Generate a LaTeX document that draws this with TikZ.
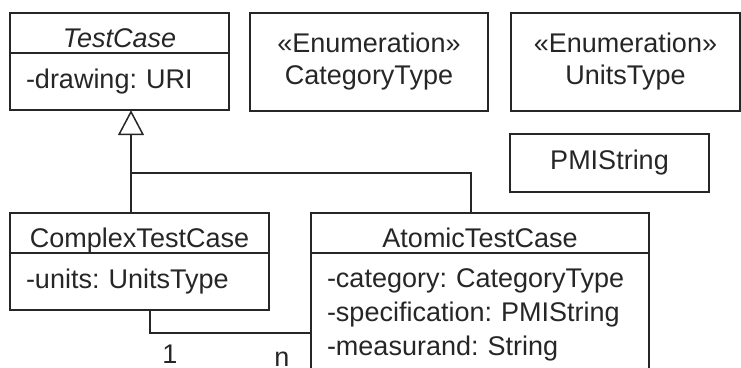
\documentclass[tikz,border=0pt]{standalone}
\usepackage{fontspec}
\setmainfont{Liberation Sans}
\usetikzlibrary{positioning,arrows.meta}

\newcommand{\umlfont}{\fontsize{27}{34}\selectfont}
\tikzset{
  uml/.style={draw, line width=1.5pt, font=\umlfont, inner sep=0pt, outer sep=0pt},
  classhead/.style={uml, minimum width=#1, text height=34pt, text depth=6pt, anchor=north west},
  classattr/.style={uml, text width=#1, inner xsep=16pt, inner ysep=16pt, align=left},
  typebox/.style={uml, align=center, anchor=north west, font=\fontsize{27}{32}\selectfont},
  mult/.style={font=\umlfont, anchor=base},
  inherit/.style={-{Triangle[open, width=26pt, length=25pt]}},
}
\frenchspacing

\begin{document}
\begin{tikzpicture}[x=1pt, y=-1pt, line width=1.5pt, color=black!85]
\path[use as bounding box, clip] (0,0) rectangle (741,367);

% classes
\node[classhead=219pt, font=\umlfont\itshape] (tc) at (10,13) {TestCase};
\node[classattr=187pt, below=0pt of tc] (tcattr) {-drawing: URI};

\node[classhead=259pt] (cx) at (10,213) {ComplexTestCase};
\node[classattr=227pt, below=0pt of cx] (cxattr) {-units: UnitsType};

\node[classhead=338pt] (at) at (311,213) {AtomicTestCase};
\node[classattr=306pt, below=0pt of at] (atattr) {-category: CategoryType\\-specification: PMIString\\-measurand: String};

% types
\node[typebox, minimum width=238pt, minimum height=98pt] (cat) at (250,13) {«Enumeration»\\CategoryType};
\node[typebox, minimum width=229pt, minimum height=98pt] (units) at (511,13) {«Enumeration»\\UnitsType};
\node[typebox, minimum width=199pt, minimum height=58pt] (pmi) at (510,134) {PMIString};

% generalization
\coordinate (gen) at (131,173);
\coordinate (atjoin) at (471,173);
\draw[inherit] (gen |- cx.north) -- (gen |- tcattr.south);
\draw (gen) -- (atjoin) -- (atjoin |- at.north);

% association
\coordinate (assoc) at (150,333);
\draw (cxattr.south -| assoc) |- (assoc -| atattr.west);
\node[mult] (one) at (170,363) {1};
\node[mult] (many) at (282,366) {n};
\end{tikzpicture}
\end{document}
